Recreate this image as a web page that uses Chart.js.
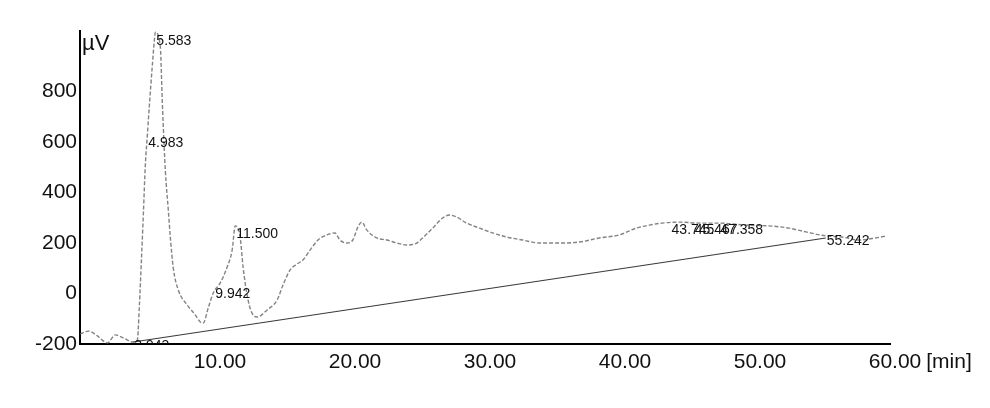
<!DOCTYPE html>
<html>
<head>
<meta charset="utf-8">
<script src="https://cdn.jsdelivr.net/npm/chart.js@4"></script>
<style>
    html, body { margin: 0; padding: 0; background: #ffffff; }
    #wrap { width: 990px; height: 408px; position: relative; }
</style>
</head>
<body>
<div id="wrap"><canvas id="chromChart"></canvas></div>
<script>
// chromatogram trace (min, µV)
const retentionTimes = [0, 0.63, 1.29, 2.03, 2.62, 3.22, 3.88, 4.25, 4.40, 4.55, 4.69, 4.84, 4.99, 5.14, 5.36, 5.51, 5.583,
    5.95, 6.10, 6.32, 6.54, 6.69, 6.91, 7.28, 7.95, 8.54, 8.91, 9.13, 9.50, 9.87, 10.39, 10.90, 11.27, 11.50,
    11.86, 12.08, 12.45, 12.82, 13.12, 13.86, 14.6, 15.04, 15.56, 16.08, 16.52, 17.04, 17.63, 18.29, 18.88,
    19.25, 19.77, 20.21, 20.58, 20.88, 21.25, 21.99, 22.73, 23.47, 24.2, 24.94, 25.38, 26.12, 26.86, 27.38,
    27.9, 28.64, 29.6, 30.56, 31.6, 32.78, 34.04, 35.51, 36.99, 38.47, 39.94, 41.2, 42.16, 43.12, 44.38,
    45.86, 47.34, 49.33, 51.26, 52.52, 53.78, 55.24, 56.42, 57.68, 58.94, 59.75];
const signalUV = [-160, -149, -168, -196, -164, -176, -192, -184, -46, 133, 311, 509, 628, 746, 905, 1004, 1035,
    976, 754, 489, 331, 224, 101, 14, -46, -85, -113, -117, -57, 2, 42, 105, 172, 268,
    224, 105, -26, -85, -93, -65, -26, 34, 93, 117, 133, 172, 212, 232, 240,
    212, 200, 212, 263, 283, 251, 220, 212, 200, 192, 200, 220, 259, 299, 311,
    303, 279, 259, 240, 224, 212, 200, 200, 204, 220, 232, 259, 271, 279, 283,
    279, 279, 271, 267, 259, 244, 228, 224, 212, 220, 228];

// integration baseline
const baselineTimes = [3.943, 55.242];
const baselineUV = [-192, 220];

// peak annotations (label anchor heights)
const peakTimes = [3.943, 4.983, 5.583, 9.942, 11.500, 43.745, 45.467, 47.358, 55.242];
const peakHeights = [-178, 627, 1030, 28, 268, 283, 282, 281, 240];
const peakLabels = ['3.943', '4.983', '5.583', '9.942', '11.500', '43.745', '45.467', '47.358', '55.242'];

const xTicks = [10, 20, 30, 40, 50, 60];
const xTickLabels = ['10.00', '20.00', '30.00', '40.00', '50.00', '60.00'];
const yTicks = [-200, 0, 200, 400, 600, 800];

const FONT = '"Liberation Sans", Arial, sans-serif';

const tracePoints = retentionTimes.map((t, i) => ({ x: t, y: signalUV[i] }));
const basePoints = baselineTimes.map((t, i) => ({ x: t, y: baselineUV[i] }));

const annotatePlugin = {
    id: 'annotate',
    afterDatasetsDraw(chart) {
        const ctx = chart.ctx;
        const xs = chart.scales.x;
        const ys = chart.scales.y;
        const area = chart.chartArea;

        // peak times, clipped at the time axis like on the printout
        ctx.save();
        ctx.beginPath();
        ctx.rect(area.left, area.top - 20, area.right - area.left + 100, area.bottom - area.top + 20);
        ctx.clip();
        ctx.font = '14px ' + FONT;
        ctx.fillStyle = '#111';
        ctx.textAlign = 'left';
        ctx.textBaseline = 'middle';
        peakTimes.forEach((t, i) => {
            ctx.fillText(peakLabels[i], xs.getPixelForValue(t) + 1, ys.getPixelForValue(peakHeights[i]) + 8);
        });
        ctx.restore();
    },
    afterDraw(chart) {
        const ctx = chart.ctx;
        const xs = chart.scales.x;
        const ys = chart.scales.y;
        ctx.save();
        ctx.fillStyle = '#111';
        ctx.textAlign = 'left';
        ctx.textBaseline = 'middle';
        ctx.font = '22px ' + FONT;
        ctx.fillText('µV', ys.right + 2, ys.top + 13);

        ctx.font = '21px ' + FONT;
        const w = ctx.measureText('60.00').width;
        ctx.fillText('[min]', xs.getPixelForValue(60) + 5 + w / 2 + 5, xs.top + 6 + 12.6);
        ctx.restore();
    }
};

new Chart(document.getElementById('chromChart'), {
    type: 'line',
    data: {
        datasets: [
            {
                label: 'signal',
                data: tracePoints,
                borderColor: 'rgba(100, 100, 100, 0.8)',
                borderWidth: 1.4,
                borderDash: [4, 2],
                pointRadius: 0,
                cubicInterpolationMode: 'monotone',
                fill: false
            },
            {
                label: 'baseline',
                data: basePoints,
                borderColor: '#3a3a3a',
                borderWidth: 1.2,
                pointRadius: 0,
                fill: false
            }
        ]
    },
    options: {
        responsive: true,
        maintainAspectRatio: false,
        animation: false,
        layout: { padding: { top: 31, right: 100, left: 0, bottom: 0 } },
        plugins: {
            legend: { display: false },
            tooltip: { enabled: false }
        },
        scales: {
            x: {
                type: 'linear',
                min: 0,
                max: 60,
                afterFit: s => { s.height = 64; },
                afterBuildTicks: s => { s.ticks = xTicks.map(v => ({ value: v })); },
                grid: { display: false, drawTicks: false },
                border: { display: true, color: '#000', width: 2 },
                ticks: {
                    autoSkip: false,
                    maxRotation: 0,
                    padding: 6,
                    labelOffset: 5,
                    color: '#111',
                    font: { family: FONT, size: 21 },
                    callback: (v, i) => xTickLabels[i]
                }
            },
            y: {
                type: 'linear',
                min: -200,
                max: 1040,
                afterFit: s => { s.width = 80; },
                afterBuildTicks: s => { s.ticks = yTicks.map(v => ({ value: v })); },
                grid: { display: false, drawTicks: false },
                border: { display: true, color: '#000', width: 2 },
                ticks: {
                    padding: 3,
                    color: '#111',
                    font: { family: FONT, size: 21 }
                }
            }
        }
    },
    plugins: [annotatePlugin]
});
</script>
</body>
</html>
